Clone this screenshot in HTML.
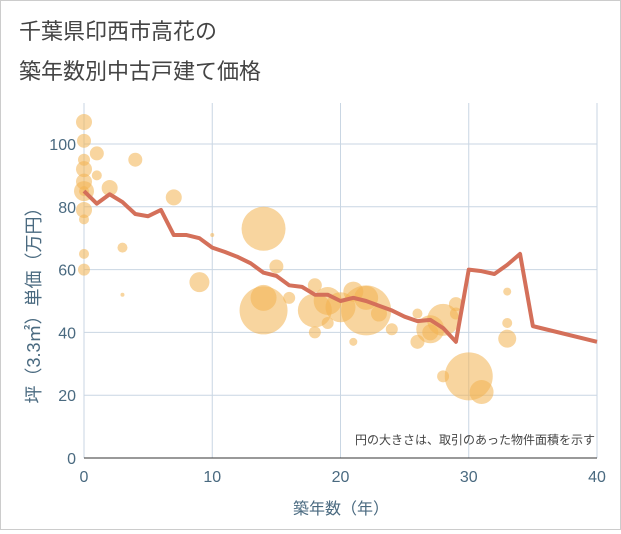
<!DOCTYPE html>
<html><head><meta charset="utf-8"><style>
body{margin:0;background:#fff;}
#wrap{width:619px;height:528px;border:1px solid #ccc;position:relative;font-family:"Liberation Sans","Noto Sans CJK JP",sans-serif;}
svg text{font-family:"Liberation Sans","Noto Sans CJK JP",sans-serif;}
</style></head><body>
<div id="wrap">
<svg id="c" width="619" height="528">
<text x="18" y="38" font-size="22" fill="#444">千葉県印西市高花の</text>
<text x="18" y="78" font-size="22" fill="#444">築年数別中古戸建て価格</text>
<g id="grid"></g><g id="bubbles"></g><g id="line"></g><g id="axes"></g>
<text x="594" y="443" font-size="12" fill="#444" text-anchor="end">円の大きさは、取引のあった物件面積を示す</text>
<text x="340" y="513" font-size="16" fill="#4a6a80" text-anchor="middle">築年数（年）</text>
<text transform="translate(39,300) rotate(-90)" font-size="18" fill="#4a6a80" text-anchor="middle">坪（3.3㎡）単価（万円）</text>
</svg></div>
<script>
const xTicks=[0,10,20,30,40];
const yTicks=[0,20,40,60,80,100];
const lineYears=[0,1,2,3,4,5,6,7,8,9,10,11,12,13,14,15,16,17,18,19,20,21,22,23,24,25,26,27,28,29,30,31,32,33,34,35,40];
const linePrices=[85,81,84,81.5,77.7,77,79,71,71,70,67,65.6,64,62,59,58,55,54.5,52,52,50,51,50,48.5,47,45,43.6,44,41.4,37,60,59.5,58.6,61.5,65,42,37];
const bubbleYears=[0,0,0,0,0,0,0,0,0,0,0,1,1,2,3,3,4,7,10,9,14,14,14,15,16,18,18,18,19,19,20,21,21,22,22,23,24,26,26,27,27,28,28,29,29,30,31,33,33,33];
const bubblePrices=[107,101,95,92,88,85,79,76,65,60,85,97,90,86,67,52,95,83,71,56,73,47,51,61,51,55,40,47,50,43,48,53,37,47,51,46,41,37,46,41,40,44,26,49,46,26,21,38,43,53];
const bubbleSizes=[8,7,6,8,8,10,8,5,5,6,5,7,5,8,5,2,7,8,2,10,22,24,13,7,6,7,6,17,14,6,15,10,4,25,12,8,6,7,5,14,8,16,6,7,6,24,12,9,5,4];
const X0=83,X1=596,Y0=457,Y1=143;
const xs=v=>X0+(X1-X0)*v/40, ys=v=>Y0-(Y0-Y1)*v/100;
const NS="http://www.w3.org/2000/svg";
function mk(t,a,p){const e=document.createElementNS(NS,t);for(const k in a)e.setAttribute(k,a[k]);p.appendChild(e);return e;}
const grid=document.getElementById('grid'),axes=document.getElementById('axes');
xTicks.forEach(v=>{const l=mk('line',{x1:xs(v),x2:xs(v),y1:102,y2:Y0,stroke:'#c9d6e3'},grid);


const t=mk('text',{x:xs(v),y:481,'font-size':16,fill:'#4a6a80','text-anchor':'middle'},axes);t.textContent=v;

});
yTicks.forEach(v=>{const l=mk('line',{x1:X0,x2:X1,y1:ys(v),y2:ys(v),stroke:'#c9d6e3'},grid);


const t=mk('text',{x:75,y:ys(v)+6,'font-size':16,fill:'#4a6a80','text-anchor':'end'},axes);t.textContent=v;

});
const ax=mk('line',{x1:X0,x2:X1,y1:Y0,y2:Y0,stroke:'#333'},axes);


const bg=document.getElementById('bubbles');
bubbleYears.forEach((v,i)=>{const c=mk('circle',{cx:xs(v),cy:ys(bubblePrices[i]),r:bubbleSizes[i],fill:'rgba(242,178,80,0.55)'},bg);

});
const p=mk('polyline',{points:lineYears.map((v,i)=>xs(v)+','+ys(linePrices[i])).join(' '),fill:'none',stroke:'#d4705a','stroke-width':4,'stroke-linejoin':'round'},document.getElementById('line'));


</script></body></html>
